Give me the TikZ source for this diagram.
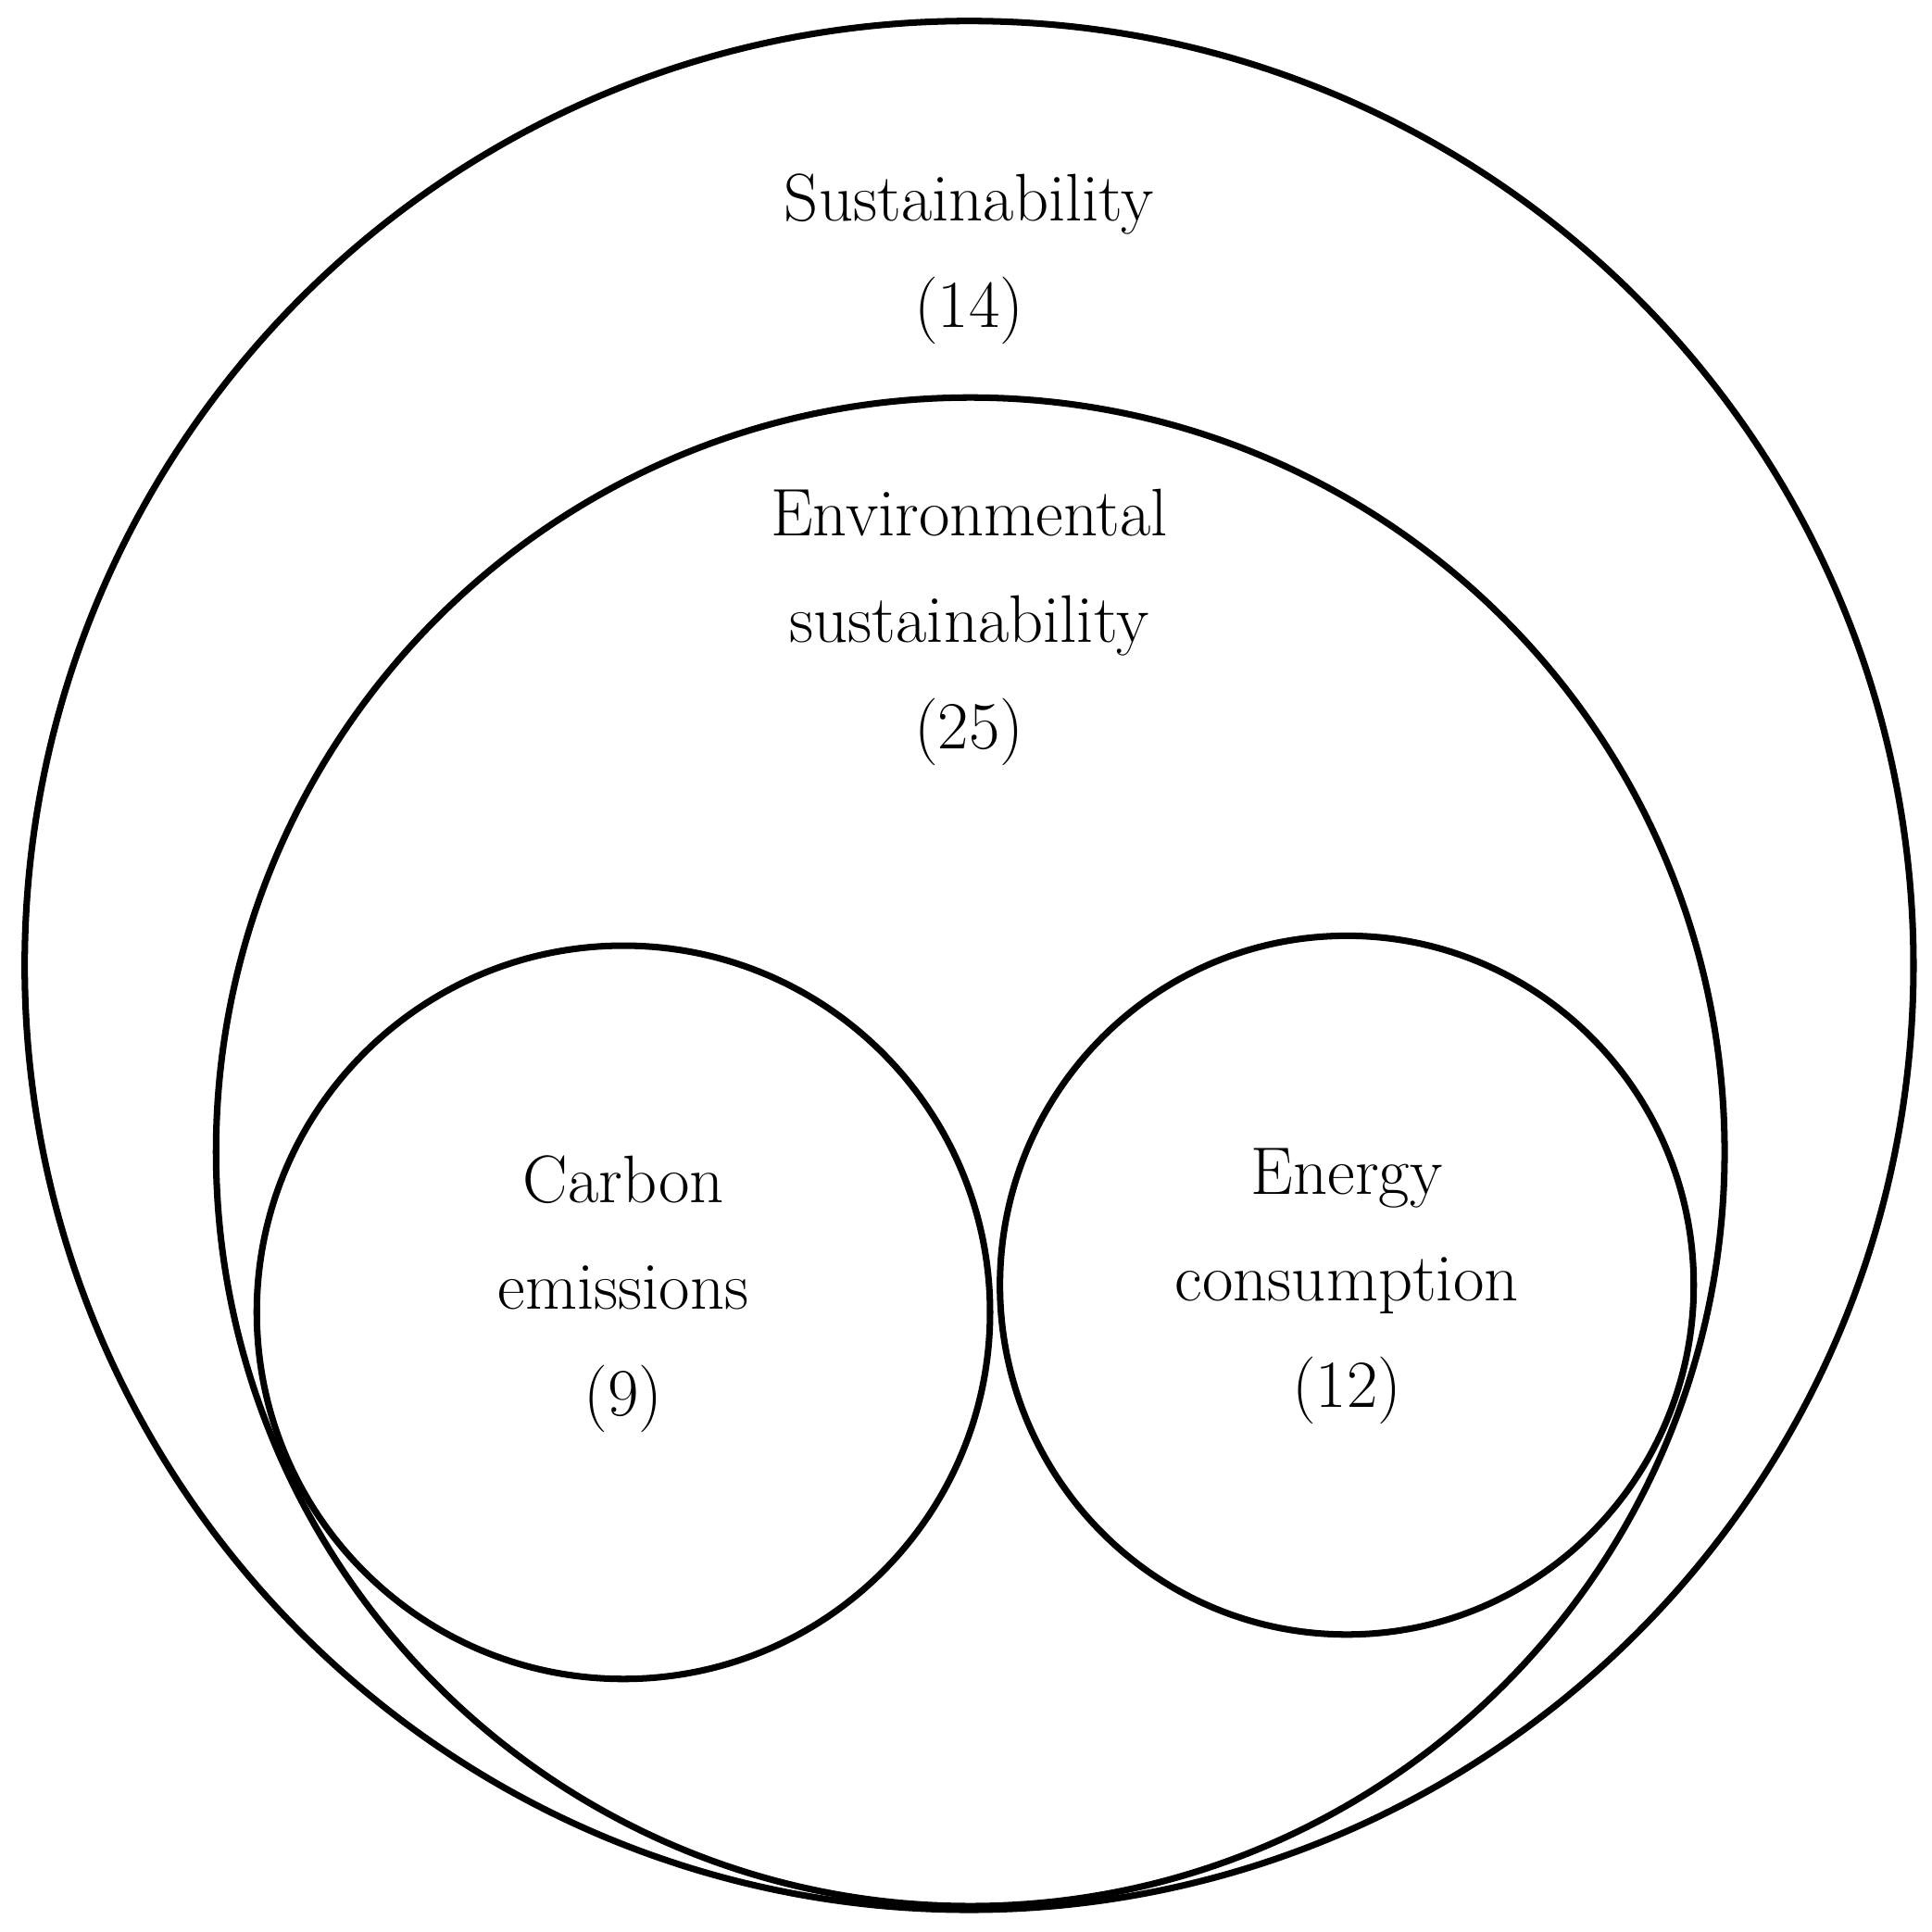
\documentclass[tikz,border=0pt]{standalone}
\begin{document}
\begin{tikzpicture}[x=0.01cm,y=-0.01cm,
  ring/.style={line width=1.5pt},
  lbl/.style={align=center,font=\fontsize{15.5}{24.5}\selectfont}]
\useasboundingbox (0,0) rectangle (1565,1565);
\draw[ring] (785,782) ellipse [x radius=765,y radius=765];
\draw[ring] (786,933) ellipse [x radius=611,y radius=611];
\draw[ring] (505,1063) ellipse [x radius=297,y radius=297];
\draw[ring] (1091,1041) ellipse [x radius=281,y radius=283];
\node[lbl] (s) at (785,210) {Sustainability\\(14)};
\node[lbl] (e) at (785,508) {Environmental\\sustainability\\(25)};
\node[lbl] (c) at (505,1048) {Carbon\\emissions\\(9)};
\node[lbl] (g) at (1091,1042) {Energy\\consumption\\(12)};
\end{tikzpicture}
\end{document}
